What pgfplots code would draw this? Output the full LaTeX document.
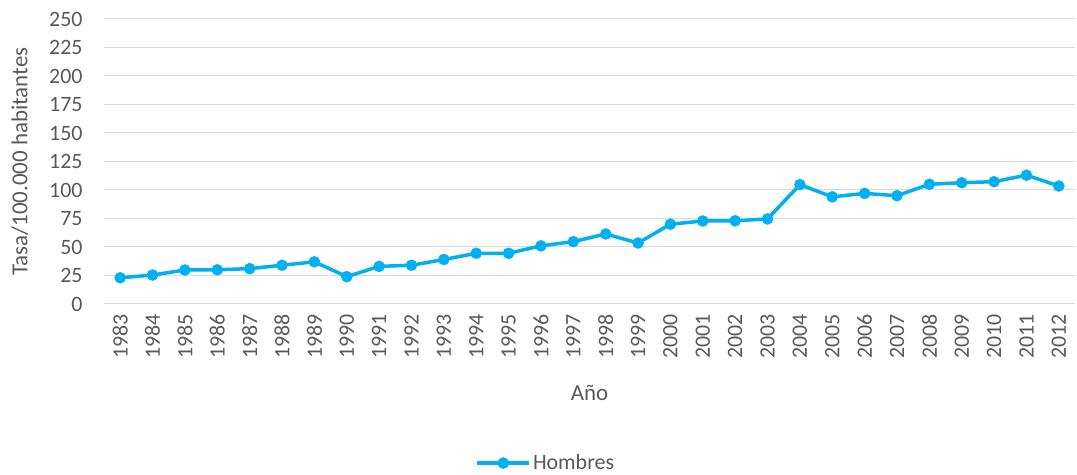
\documentclass[border=0pt]{standalone}
\usepackage{pgfplots}
\pgfplotsset{compat=1.18}
\usepackage{fontspec}
\setmainfont{Carlito}
\definecolor{txt}{HTML}{595959}
\definecolor{ln}{HTML}{00B0F0}
\definecolor{grd}{HTML}{D9D9D9}
\begin{document}
\begin{tikzpicture}[x=1bp,y=1bp]
\begin{axis}[
  at={(0,0)}, anchor=south west,
  scale only axis, width=971bp, height=285bp,
  xmin=-0.5, xmax=29.5, ymin=0, ymax=250,
  ytick={0,25,...,250},
  xtick={0,...,29},
  xticklabels={1983,1984,1985,1986,1987,1988,1989,1990,1991,1992,1993,1994,1995,1996,1997,1998,1999,2000,2001,2002,2003,2004,2005,2006,2007,2008,2009,2010,2011,2012},
  x tick label style={rotate=90, anchor=east, font=\fontsize{22}{24}\selectfont, text=txt, xshift=-7bp},
  y tick label style={font=\fontsize{22}{24}\selectfont, text=txt, xshift=-18bp},
  /pgf/number format/assume math mode=true,
  ymajorgrids, grid style={grd, line width=1pt},
  axis line style={draw=none},
  major tick length=0pt,
  xlabel={Año}, ylabel={Tasa/100.000 habitantes},
  label style={font=\fontsize{23}{25}\selectfont, text=txt},
  xlabel style={at={(axis description cs:0.5,0)}, anchor=center, yshift=-89bp},
  ylabel style={at={(axis description cs:0,0.5)}, anchor=center, rotate=0, yshift=84bp},
  legend style={at={(axis description cs:0.455,-0.558)}, anchor=center, draw=none, font=\fontsize{22}{24}\selectfont, text=txt, inner sep=0pt},
  legend image code/.code={\draw[#1] (0bp,0bp) -- (52bp,0bp); \draw[#1, mark repeat=1] plot coordinates {(26bp,0bp)};},
  clip=false,
]
\addplot[color=ln, line width=3.5bp, line join=round, mark=*, mark size=5.5bp, mark options={solid, fill=ln, draw=ln, line width=0.5bp}] coordinates {
(0,23) (1,25.4) (2,29.8) (3,30) (4,31) (5,34) (6,37) (7,24) (8,33) (9,34)
(10,39) (11,44.5) (12,44.5) (13,51) (14,54.7) (15,61.4) (16,53.5) (17,70) (18,72.8) (19,73)
(20,74.6) (21,104.7) (22,94) (23,97) (24,95) (25,105) (26,106.4) (27,107.3) (28,113) (29,103.5)
};
\addlegendentry{Hombres}
\end{axis}
\useasboundingbox (-104,-171) rectangle (973,304);
\end{tikzpicture}
\end{document}
